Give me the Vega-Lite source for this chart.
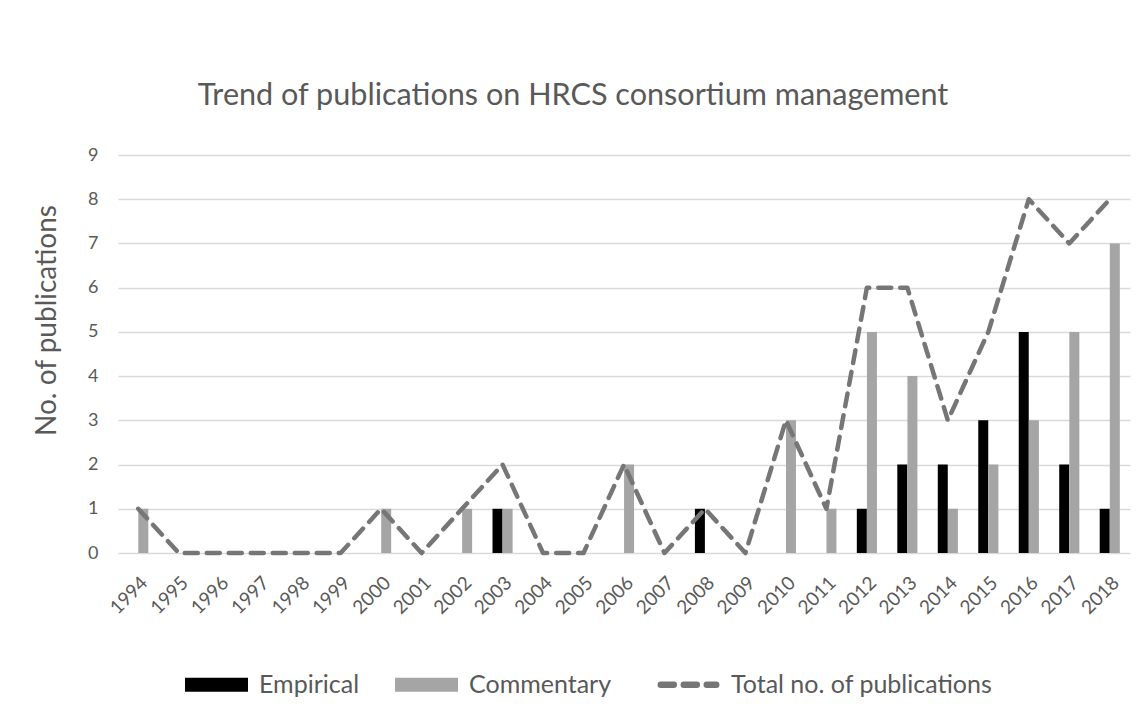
{
  "$schema": "https://vega.github.io/schema/vega-lite/v6.json",
  "autosize": {"type": "none"},
  "width": 1012,
  "height": 398,
  "padding": {"left": 118, "top": 155, "right": 16, "bottom": 165},
  "background": "#ffffff",
  "title": {
    "text": "Trend of publications on HRCS consortium management",
    "anchor": "middle",
    "dx": -51,
    "offset": 34,
    "fontSize": 30.6,
    "font": "Lato",
    "fontWeight": "normal",
    "color": "#595959"
  },
  "datasets": {
    "bars": [
      {"year": "2003", "series": "Empirical", "n": 1},
      {"year": "2008", "series": "Empirical", "n": 1},
      {"year": "2012", "series": "Empirical", "n": 1},
      {"year": "2013", "series": "Empirical", "n": 2},
      {"year": "2014", "series": "Empirical", "n": 2},
      {"year": "2015", "series": "Empirical", "n": 3},
      {"year": "2016", "series": "Empirical", "n": 5},
      {"year": "2017", "series": "Empirical", "n": 2},
      {"year": "2018", "series": "Empirical", "n": 1},
      {"year": "1994", "series": "Commentary", "n": 1},
      {"year": "2000", "series": "Commentary", "n": 1},
      {"year": "2002", "series": "Commentary", "n": 1},
      {"year": "2003", "series": "Commentary", "n": 1},
      {"year": "2006", "series": "Commentary", "n": 2},
      {"year": "2010", "series": "Commentary", "n": 3},
      {"year": "2011", "series": "Commentary", "n": 1},
      {"year": "2012", "series": "Commentary", "n": 5},
      {"year": "2013", "series": "Commentary", "n": 4},
      {"year": "2014", "series": "Commentary", "n": 1},
      {"year": "2015", "series": "Commentary", "n": 2},
      {"year": "2016", "series": "Commentary", "n": 3},
      {"year": "2017", "series": "Commentary", "n": 5},
      {"year": "2018", "series": "Commentary", "n": 7}
    ],
    "totals": [
      {"year": "1994", "n": 1},
      {"year": "1995", "n": 0},
      {"year": "1996", "n": 0},
      {"year": "1997", "n": 0},
      {"year": "1998", "n": 0},
      {"year": "1999", "n": 0},
      {"year": "2000", "n": 1},
      {"year": "2001", "n": 0},
      {"year": "2002", "n": 1},
      {"year": "2003", "n": 2},
      {"year": "2004", "n": 0},
      {"year": "2005", "n": 0},
      {"year": "2006", "n": 2},
      {"year": "2007", "n": 0},
      {"year": "2008", "n": 1},
      {"year": "2009", "n": 0},
      {"year": "2010", "n": 3},
      {"year": "2011", "n": 1},
      {"year": "2012", "n": 6},
      {"year": "2013", "n": 6},
      {"year": "2014", "n": 3},
      {"year": "2015", "n": 5},
      {"year": "2016", "n": 8},
      {"year": "2017", "n": 7},
      {"year": "2018", "n": 8}
    ]
  },
  "config": {
    "font": "Lato",
    "view": {"stroke": null},
    "axis": {
      "labelFont": "Lato",
      "labelColor": "#595959",
      "titleFont": "Lato",
      "titleColor": "#595959",
      "titleFontWeight": "normal",
      "domain": false,
      "ticks": false
    }
  },
  "encoding": {
    "x": {
      "field": "year",
      "type": "ordinal",
      "sort": null,
      "scale": {
        "domain": ["1994","1995","1996","1997","1998","1999","2000","2001","2002","2003","2004","2005","2006","2007","2008","2009","2010","2011","2012","2013","2014","2015","2016","2017","2018"],
        "paddingInner": 0.5,
        "paddingOuter": 0.25
      },
      "axis": {
        "title": null,
        "labelAngle": -45,
        "labelFontSize": 19,
        "labelPadding": 20,
        "grid": false
      }
    },
    "y": {
      "field": "n",
      "type": "quantitative",
      "scale": {"domain": [0, 9], "nice": false},
      "axis": {
        "title": "No. of publications",
        "titleFontSize": 28,
        "titlePadding": 26,
        "titleY": 165,
        "titleAlign": "center",
        "labelFontSize": 18,
        "labelPadding": 20,
        "values": [0, 1, 2, 3, 4, 5, 6, 7, 8, 9],
        "labelOverlap": false,
        "grid": true,
        "gridColor": "#D9D9D9",
        "gridWidth": 1.3
      }
    }
  },
  "layer": [
    {
      "data": {"name": "bars"},
      "mark": {"type": "bar", "width": 10},
      "encoding": {
        "xOffset": {
          "field": "series",
          "type": "nominal",
          "scale": {"domain": ["Empirical", "Commentary"], "paddingInner": 0, "paddingOuter": 0}
        },
        "color": {
          "field": "series",
          "type": "nominal",
          "scale": {
            "domain": ["Empirical", "Commentary", "Total no. of publications"],
            "range": ["#000000", "#A5A5A5", "#767676"]
          },
          "legend": {
            "title": null,
            "orient": "none",
            "direction": "horizontal",
            "legendX": 86,
            "legendY": 517,
            "labelFont": "Lato",
            "labelFontSize": 25,
            "labelColor": "#595959",
            "labelOffset": 30,
            "labelLimit": 400,
            "columnPadding": 35,
            "symbolSize": 3969,
            "symbolStrokeWidth": 0,
            "encode": {
              "symbols": {
                "update": {
                  "shape": {"signal": "datum.value === 'Total no. of publications' ? 'M-0.88,0H0.88' : 'M-1,-0.222H1V0.222H-1Z'"},
                  "fill": {"signal": "datum.value === 'Total no. of publications' ? 'transparent' : scale('color', datum.value)"},
                  "stroke": {"signal": "datum.value === 'Total no. of publications' ? '#767676' : 'transparent'"},
                  "strokeWidth": {"signal": "datum.value === 'Total no. of publications' ? 6.5 : 0"},
                  "strokeDash": {"signal": "datum.value === 'Total no. of publications' ? [13, 10] : [1, 0]"},
                  "strokeCap": {"value": "round"},
                  "opacity": {"value": 1}
                }
              }
            }
          }
        }
      }
    },
    {
      "data": {"name": "totals"},
      "mark": {"type": "line", "strokeWidth": 4.5, "strokeDash": [13, 9], "strokeCap": "round", "strokeJoin": "round"},
      "encoding": {
        "color": {"datum": "Total no. of publications"}
      }
    }
  ]
}
